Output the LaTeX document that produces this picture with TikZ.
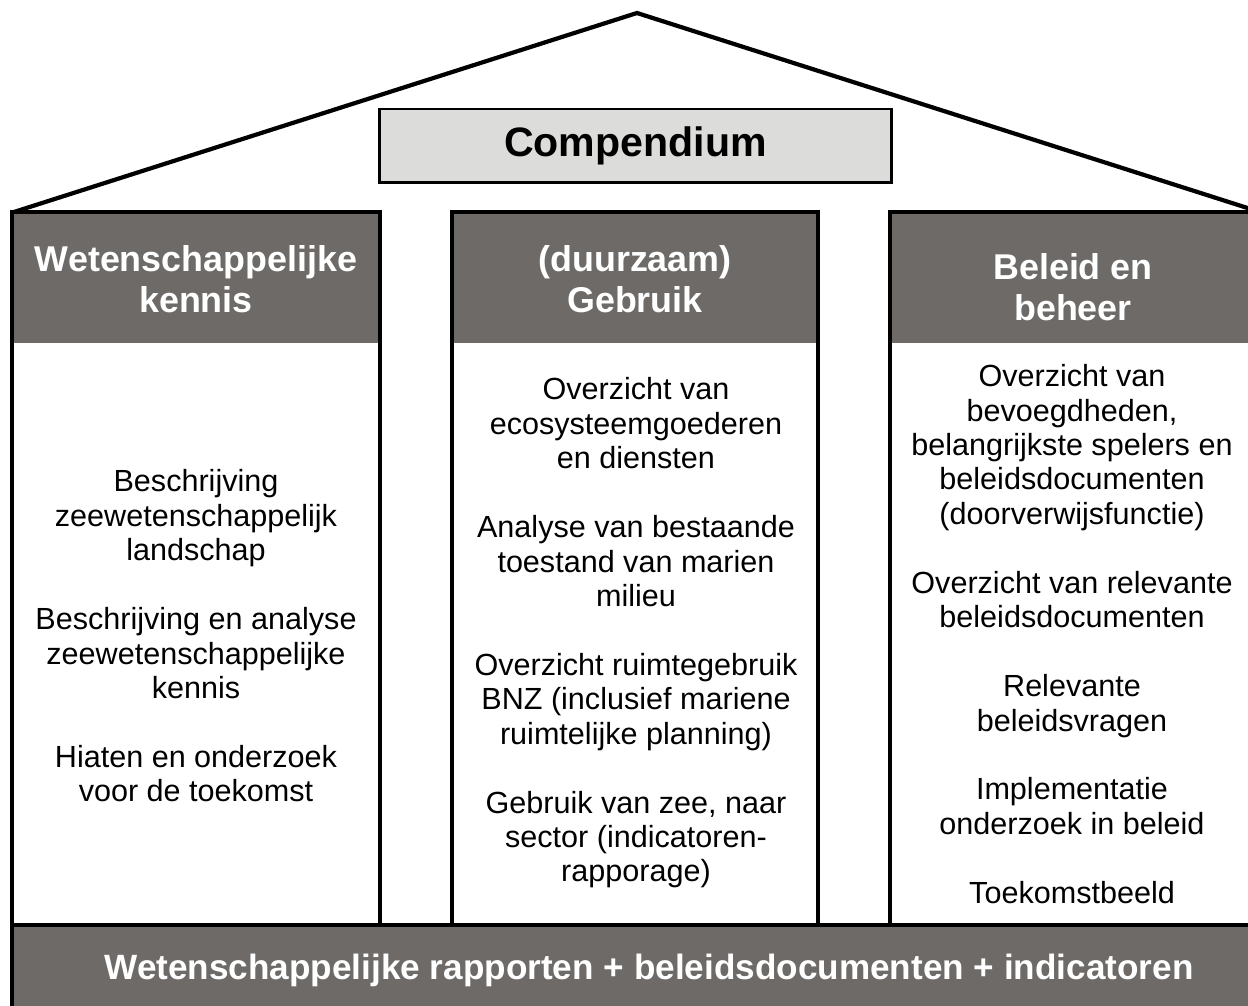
\documentclass[tikz,border=0pt]{standalone}
\usepackage{fontspec}
\setmainfont{Liberation Sans}
\usepackage{xcolor}
\usetikzlibrary{positioning}
\definecolor{headgray}{HTML}{6E6A68}
\definecolor{boxgray}{HTML}{DCDCDA}

\begin{document}
\begin{tikzpicture}[
		x=0.02cm, y=-0.02cm,
		outline/.style={line width=2.4pt, line join=miter},
		colhead/.style={
			text=white,
			align=center,
			font=\bfseries\fontsize{20.4}{23}\selectfont
		},
		coltext/.style={
			align=center,
			font=\fontsize{17.4}{19.6}\selectfont
		}
		]
		\useasboundingbox (0,0) rectangle (1248,1006);
		
		% Roof
		\draw[outline] (14,212) -- (637,13) -- (1260,212);
		
		% Compendium
		\node[draw, fill=boxgray, line width=1.7pt, minimum width=10.26cm,
			minimum height=1.48cm, font=\bfseries\fontsize{23.4}{27}\selectfont]
			(compendium) at (635.5,146) {Compendium};
		
		% Pillars
		\foreach \xa/\xb in {12/380, 452/818, 890/1258} {
			\fill[headgray] (\xa,212) rectangle (\xb,343);
			\draw[outline] (\xa,925) -- (\xa,212) -- (\xb,212) -- (\xb,925);
		}
		
		% Base
		\fill[headgray] (12,925) rectangle (1290,1040);
		\draw[outline] (12,1040) -- (12,925) -- (1290,925);
		
		% Headers
		\node[colhead] (kennis) at (196,279) {Wetenschappelijke\\kennis};
		\node[colhead] (gebruik) at (635,279) {(duurzaam)\\Gebruik};
		\node[colhead] (beleid) at (1073,287) {Beleid en\\beheer};
		
		% Column contents
		\node[coltext] (kennistext) at (196,636) {
			Beschrijving\\
			zeewetenschappelijk\\
			landschap\\[19.6pt]
			Beschrijving en analyse\\
			zeewetenschappelijke\\
			kennis\\[19.6pt]
			Hiaten en onderzoek\\
			voor de toekomst
		};
		
		\node[coltext] (gebruiktext) at (636,633) {
			Overzicht van\\
			ecosysteemgoederen\\
			en diensten\\[19.6pt]
			Analyse van bestaande\\
			toestand van marien\\
			milieu\\[19.6pt]
			Overzicht ruimtegebruik\\
			BNZ (inclusief mariene\\
			ruimtelijke planning)\\[19.6pt]
			Gebruik van zee, naar\\
			sector (indicatoren-\\
			rapporage)
		};
		
		\node[coltext] (beleidtext) at (1072,634) {
			Overzicht van\\
			bevoegdheden,\\
			belangrijkste spelers en\\
			beleidsdocumenten\\
			(doorverwijsfunctie)\\[19.6pt]
			Overzicht van relevante\\
			beleidsdocumenten\\[19.6pt]
			Relevante\\
			beleidsvragen\\[19.6pt]
			Implementatie\\
			onderzoek in beleid\\[19.6pt]
			Toekomstbeeld
		};
		
		% Base text
		\node[colhead, font=\bfseries\fontsize{20}{23}\selectfont] (producten) at (649,970)
			{Wetenschappelijke rapporten + beleidsdocumenten + indicatoren};
		
	\end{tikzpicture}
\end{document}
